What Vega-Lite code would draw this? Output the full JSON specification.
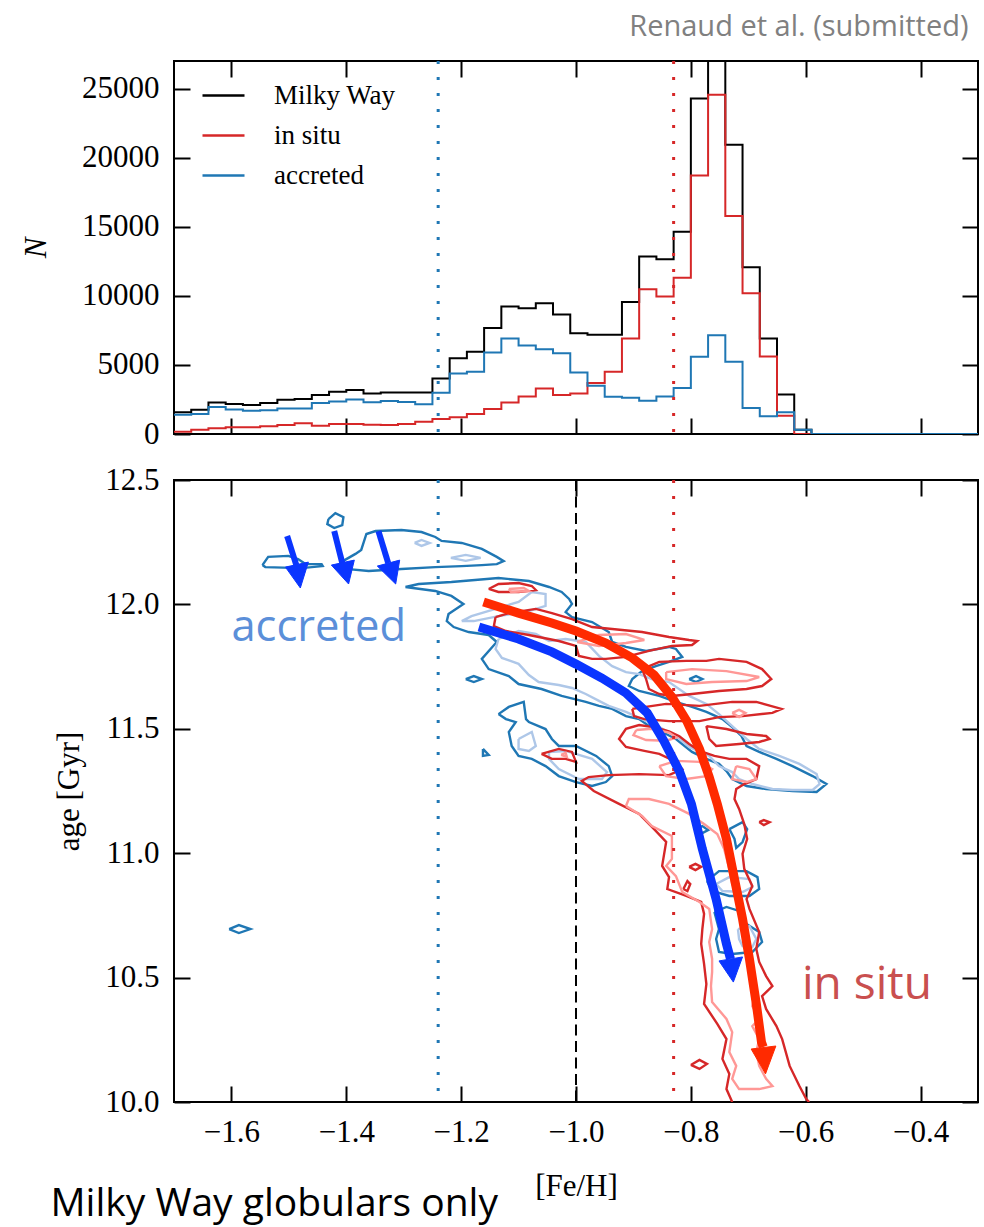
{
"$schema":"https://vega.github.io/schema/vega-lite/v6.json",
"background":"white",
"padding":{"left":19,"top":11,"right":6,"bottom":2},
"spacing":13,
"resolve":{"scale":{"color":"independent"},"legend":{"color":"independent"}},
"config":{
 "view":{"stroke":"black","strokeWidth":2},
 "axis":{"labelFont":"Liberation Serif","labelFontSize":31,"labelColor":"black","titleFont":"Liberation Serif","titleFontSize":31,"titleFontWeight":"normal","titleColor":"black","tickSize":-16,"tickWidth":2,"tickColor":"black","labelPadding":31,"domain":false,"grid":false,"labelFlush":false,"labelOverlap":false,"minExtent":0},
 "legend":{"labelFont":"Liberation Serif","labelFontSize":27,"labelColor":"black"}
},
"datasets":{
"hist":[
{"s":"Milky Way","x":-1.70,"n":1566},{"s":"Milky Way","x":-1.67,"n":1758},{"s":"Milky Way","x":-1.64,"n":2288},{"s":"Milky Way","x":-1.61,"n":2168},{"s":"Milky Way","x":-1.58,"n":2095},{"s":"Milky Way","x":-1.55,"n":2240},{"s":"Milky Way","x":-1.52,"n":2480},{"s":"Milky Way","x":-1.49,"n":2529},{"s":"Milky Way","x":-1.46,"n":2818},{"s":"Milky Way","x":-1.43,"n":3058},{"s":"Milky Way","x":-1.40,"n":3179},{"s":"Milky Way","x":-1.37,"n":2938},{"s":"Milky Way","x":-1.34,"n":3010},{"s":"Milky Way","x":-1.31,"n":3010},{"s":"Milky Way","x":-1.28,"n":3010},{"s":"Milky Way","x":-1.25,"n":4022},{"s":"Milky Way","x":-1.22,"n":5491},{"s":"Milky Way","x":-1.19,"n":5949},{"s":"Milky Way","x":-1.16,"n":7680},{"s":"Milky Way","x":-1.13,"n":9225},{"s":"Milky Way","x":-1.10,"n":9105},{"s":"Milky Way","x":-1.07,"n":9466},{"s":"Milky Way","x":-1.04,"n":8647},{"s":"Milky Way","x":-1.01,"n":7298},{"s":"Milky Way","x":-0.98,"n":7177},{"s":"Milky Way","x":-0.95,"n":7177},{"s":"Milky Way","x":-0.92,"n":9563},{"s":"Milky Way","x":-0.89,"n":12840},{"s":"Milky Way","x":-0.86,"n":12647},{"s":"Milky Way","x":-0.83,"n":14646},{"s":"Milky Way","x":-0.80,"n":24280},{"s":"Milky Way","x":-0.77,"n":31700},{"s":"Milky Way","x":-0.74,"n":20932},{"s":"Milky Way","x":-0.71,"n":12069},{"s":"Milky Way","x":-0.68,"n":6912},{"s":"Milky Way","x":-0.65,"n":2866},{"s":"Milky Way","x":-0.62,"n":313},{"s":"Milky Way","x":-0.59,"n":0},{"s":"Milky Way","x":-0.30,"n":0},
{"s":"in situ","x":-1.70,"n":169},{"s":"in situ","x":-1.67,"n":313},{"s":"in situ","x":-1.64,"n":409},{"s":"in situ","x":-1.61,"n":482},{"s":"in situ","x":-1.58,"n":482},{"s":"in situ","x":-1.55,"n":554},{"s":"in situ","x":-1.52,"n":650},{"s":"in situ","x":-1.49,"n":771},{"s":"in situ","x":-1.46,"n":602},{"s":"in situ","x":-1.43,"n":722},{"s":"in situ","x":-1.40,"n":722},{"s":"in situ","x":-1.37,"n":674},{"s":"in situ","x":-1.34,"n":650},{"s":"in situ","x":-1.31,"n":722},{"s":"in situ","x":-1.28,"n":891},{"s":"in situ","x":-1.25,"n":1084},{"s":"in situ","x":-1.22,"n":1204},{"s":"in situ","x":-1.19,"n":1445},{"s":"in situ","x":-1.16,"n":1806},{"s":"in situ","x":-1.13,"n":2288},{"s":"in situ","x":-1.10,"n":2721},{"s":"in situ","x":-1.07,"n":3299},{"s":"in situ","x":-1.04,"n":2818},{"s":"in situ","x":-1.01,"n":2938},{"s":"in situ","x":-0.98,"n":3685},{"s":"in situ","x":-0.95,"n":4503},{"s":"in situ","x":-0.92,"n":6912},{"s":"in situ","x":-0.89,"n":10476},{"s":"in situ","x":-0.86,"n":9948},{"s":"in situ","x":-0.83,"n":11318},{"s":"in situ","x":-0.80,"n":18713},{"s":"in situ","x":-0.77,"n":24564},{"s":"in situ","x":-0.74,"n":15775},{"s":"in situ","x":-0.71,"n":10187},{"s":"in situ","x":-0.68,"n":5612},{"s":"in situ","x":-0.65,"n":1325},{"s":"in situ","x":-0.62,"n":0},{"s":"in situ","x":-0.59,"n":0},{"s":"in situ","x":-0.30,"n":0},
{"s":"accreted","x":-1.70,"n":1397},{"s":"accreted","x":-1.67,"n":1445},{"s":"accreted","x":-1.64,"n":1960},{"s":"accreted","x":-1.61,"n":1770},{"s":"accreted","x":-1.58,"n":1680},{"s":"accreted","x":-1.55,"n":1720},{"s":"accreted","x":-1.52,"n":1840},{"s":"accreted","x":-1.49,"n":1840},{"s":"accreted","x":-1.46,"n":2250},{"s":"accreted","x":-1.43,"n":2350},{"s":"accreted","x":-1.40,"n":2490},{"s":"accreted","x":-1.37,"n":2300},{"s":"accreted","x":-1.34,"n":2380},{"s":"accreted","x":-1.31,"n":2320},{"s":"accreted","x":-1.28,"n":2150},{"s":"accreted","x":-1.25,"n":2980},{"s":"accreted","x":-1.22,"n":4380},{"s":"accreted","x":-1.19,"n":4510},{"s":"accreted","x":-1.16,"n":5900},{"s":"accreted","x":-1.13,"n":6912},{"s":"accreted","x":-1.10,"n":6406},{"s":"accreted","x":-1.07,"n":6141},{"s":"accreted","x":-1.04,"n":5852},{"s":"accreted","x":-1.01,"n":4455},{"s":"accreted","x":-0.98,"n":3492},{"s":"accreted","x":-0.95,"n":2697},{"s":"accreted","x":-0.92,"n":2625},{"s":"accreted","x":-0.89,"n":2408},{"s":"accreted","x":-0.86,"n":2721},{"s":"accreted","x":-0.83,"n":3324},{"s":"accreted","x":-0.80,"n":5587},{"s":"accreted","x":-0.77,"n":7153},{"s":"accreted","x":-0.74,"n":5226},{"s":"accreted","x":-0.71,"n":1879},{"s":"accreted","x":-0.68,"n":1276},{"s":"accreted","x":-0.65,"n":1566},{"s":"accreted","x":-0.62,"n":313},{"s":"accreted","x":-0.59,"n":0},{"s":"accreted","x":-0.30,"n":0}
],
"contours":[
{"c":"B1","k":"bo","i":0,"x":-1.431,"y":12.343},{"c":"B1","k":"bo","i":1,"x":-1.419,"y":12.367},{"c":"B1","k":"bo","i":2,"x":-1.405,"y":12.351},{"c":"B1","k":"bo","i":3,"x":-1.407,"y":12.319},{"c":"B1","k":"bo","i":4,"x":-1.421,"y":12.307},{"c":"B1","k":"bo","i":5,"x":-1.433,"y":12.323},{"c":"B1","k":"bo","i":6,"x":-1.431,"y":12.343},
{"c":"B2","k":"bo","i":0,"x":-1.546,"y":12.158},{"c":"B2","k":"bo","i":1,"x":-1.536,"y":12.191},{"c":"B2","k":"bo","i":2,"x":-1.501,"y":12.195},{"c":"B2","k":"bo","i":3,"x":-1.484,"y":12.182},{"c":"B2","k":"bo","i":4,"x":-1.471,"y":12.162},{"c":"B2","k":"bo","i":5,"x":-1.443,"y":12.162},{"c":"B2","k":"bo","i":6,"x":-1.441,"y":12.154},{"c":"B2","k":"bo","i":7,"x":-1.478,"y":12.146},{"c":"B2","k":"bo","i":8,"x":-1.541,"y":12.150},{"c":"B2","k":"bo","i":9,"x":-1.546,"y":12.158},
{"c":"B3","k":"bo","i":0,"x":-1.409,"y":12.170},{"c":"B3","k":"bo","i":1,"x":-1.384,"y":12.203},{"c":"B3","k":"bo","i":2,"x":-1.374,"y":12.219},{"c":"B3","k":"bo","i":3,"x":-1.365,"y":12.283},{"c":"B3","k":"bo","i":4,"x":-1.349,"y":12.295},{"c":"B3","k":"bo","i":5,"x":-1.304,"y":12.299},{"c":"B3","k":"bo","i":6,"x":-1.269,"y":12.291},{"c":"B3","k":"bo","i":7,"x":-1.245,"y":12.271},{"c":"B3","k":"bo","i":8,"x":-1.234,"y":12.255},{"c":"B3","k":"bo","i":9,"x":-1.199,"y":12.247},{"c":"B3","k":"bo","i":10,"x":-1.164,"y":12.223},{"c":"B3","k":"bo","i":11,"x":-1.138,"y":12.191},{"c":"B3","k":"bo","i":12,"x":-1.126,"y":12.174},{"c":"B3","k":"bo","i":13,"x":-1.138,"y":12.162},{"c":"B3","k":"bo","i":14,"x":-1.164,"y":12.158},{"c":"B3","k":"bo","i":15,"x":-1.199,"y":12.154},{"c":"B3","k":"bo","i":16,"x":-1.245,"y":12.150},{"c":"B3","k":"bo","i":17,"x":-1.304,"y":12.142},{"c":"B3","k":"bo","i":18,"x":-1.361,"y":12.134},{"c":"B3","k":"bo","i":19,"x":-1.396,"y":12.142},{"c":"B3","k":"bo","i":20,"x":-1.409,"y":12.158},{"c":"B3","k":"bo","i":21,"x":-1.409,"y":12.170},
{"c":"B4","k":"bo","i":0,"x":-1.297,"y":12.070},{"c":"B4","k":"bo","i":1,"x":-1.274,"y":12.082},{"c":"B4","k":"bo","i":2,"x":-1.217,"y":12.090},{"c":"B4","k":"bo","i":3,"x":-1.135,"y":12.106},{"c":"B4","k":"bo","i":4,"x":-1.082,"y":12.094},{"c":"B4","k":"bo","i":5,"x":-1.047,"y":12.070},{"c":"B4","k":"bo","i":6,"x":-1.025,"y":12.050},{"c":"B4","k":"bo","i":7,"x":-1.012,"y":12.022},{"c":"B4","k":"bo","i":8,"x":-1.007,"y":12.002},{"c":"B4","k":"bo","i":9,"x":-1.018,"y":11.969},{"c":"B4","k":"bo","i":10,"x":-1.007,"y":11.949},{"c":"B4","k":"bo","i":11,"x":-0.972,"y":11.929},{"c":"B4","k":"bo","i":12,"x":-0.943,"y":11.889},{"c":"B4","k":"bo","i":13,"x":-0.937,"y":11.849},{"c":"B4","k":"bo","i":14,"x":-0.913,"y":11.829},{"c":"B4","k":"bo","i":15,"x":-0.878,"y":11.813},{"c":"B4","k":"bo","i":16,"x":-0.838,"y":11.829},{"c":"B4","k":"bo","i":17,"x":-0.826,"y":11.821},{"c":"B4","k":"bo","i":18,"x":-0.815,"y":11.789},{"c":"B4","k":"bo","i":19,"x":-0.838,"y":11.769},{"c":"B4","k":"bo","i":20,"x":-0.861,"y":11.752},{"c":"B4","k":"bo","i":21,"x":-0.885,"y":11.732},{"c":"B4","k":"bo","i":22,"x":-0.902,"y":11.700},{"c":"B4","k":"bo","i":23,"x":-0.908,"y":11.672},{"c":"B4","k":"bo","i":24,"x":-0.890,"y":11.652},{"c":"B4","k":"bo","i":25,"x":-0.855,"y":11.632},{"c":"B4","k":"bo","i":26,"x":-0.826,"y":11.608},{"c":"B4","k":"bo","i":27,"x":-0.798,"y":11.588},{"c":"B4","k":"bo","i":28,"x":-0.773,"y":11.568},{"c":"B4","k":"bo","i":29,"x":-0.745,"y":11.539},{"c":"B4","k":"bo","i":30,"x":-0.728,"y":11.507},{"c":"B4","k":"bo","i":31,"x":-0.712,"y":11.471},{"c":"B4","k":"bo","i":32,"x":-0.703,"y":11.431},{"c":"B4","k":"bo","i":33,"x":-0.681,"y":11.407},{"c":"B4","k":"bo","i":34,"x":-0.651,"y":11.379},{"c":"B4","k":"bo","i":35,"x":-0.623,"y":11.350},{"c":"B4","k":"bo","i":36,"x":-0.588,"y":11.310},{"c":"B4","k":"bo","i":37,"x":-0.564,"y":11.278},{"c":"B4","k":"bo","i":38,"x":-0.581,"y":11.246},{"c":"B4","k":"bo","i":39,"x":-0.623,"y":11.250},{"c":"B4","k":"bo","i":40,"x":-0.669,"y":11.258},{"c":"B4","k":"bo","i":41,"x":-0.703,"y":11.270},{"c":"B4","k":"bo","i":42,"x":-0.728,"y":11.298},{"c":"B4","k":"bo","i":43,"x":-0.738,"y":11.330},{"c":"B4","k":"bo","i":44,"x":-0.751,"y":11.359},{"c":"B4","k":"bo","i":45,"x":-0.773,"y":11.379},{"c":"B4","k":"bo","i":46,"x":-0.798,"y":11.407},{"c":"B4","k":"bo","i":47,"x":-0.826,"y":11.459},{"c":"B4","k":"bo","i":48,"x":-0.850,"y":11.487},{"c":"B4","k":"bo","i":49,"x":-0.873,"y":11.511},{"c":"B4","k":"bo","i":50,"x":-0.890,"y":11.539},{"c":"B4","k":"bo","i":51,"x":-0.913,"y":11.551},{"c":"B4","k":"bo","i":52,"x":-0.937,"y":11.580},{"c":"B4","k":"bo","i":53,"x":-0.960,"y":11.592},{"c":"B4","k":"bo","i":54,"x":-0.983,"y":11.608},{"c":"B4","k":"bo","i":55,"x":-1.025,"y":11.632},{"c":"B4","k":"bo","i":56,"x":-1.060,"y":11.660},{"c":"B4","k":"bo","i":57,"x":-1.100,"y":11.680},{"c":"B4","k":"bo","i":58,"x":-1.117,"y":11.712},{"c":"B4","k":"bo","i":59,"x":-1.152,"y":11.740},{"c":"B4","k":"bo","i":60,"x":-1.164,"y":11.781},{"c":"B4","k":"bo","i":61,"x":-1.138,"y":11.849},{"c":"B4","k":"bo","i":62,"x":-1.152,"y":11.877},{"c":"B4","k":"bo","i":63,"x":-1.187,"y":11.889},{"c":"B4","k":"bo","i":64,"x":-1.213,"y":11.909},{"c":"B4","k":"bo","i":65,"x":-1.225,"y":11.933},{"c":"B4","k":"bo","i":66,"x":-1.222,"y":11.961},{"c":"B4","k":"bo","i":67,"x":-1.196,"y":12.002},{"c":"B4","k":"bo","i":68,"x":-1.217,"y":12.034},{"c":"B4","k":"bo","i":69,"x":-1.245,"y":12.054},{"c":"B4","k":"bo","i":70,"x":-1.297,"y":12.070},
{"c":"B5","k":"bo","i":0,"x":-1.192,"y":11.700},{"c":"B5","k":"bo","i":1,"x":-1.178,"y":11.712},{"c":"B5","k":"bo","i":2,"x":-1.164,"y":11.700},{"c":"B5","k":"bo","i":3,"x":-1.178,"y":11.688},{"c":"B5","k":"bo","i":4,"x":-1.192,"y":11.700},
{"c":"B6","k":"bo","i":0,"x":-1.162,"y":11.419},{"c":"B6","k":"bo","i":1,"x":-1.152,"y":11.395},{"c":"B6","k":"bo","i":2,"x":-1.162,"y":11.391},{"c":"B6","k":"bo","i":3,"x":-1.162,"y":11.419},
{"c":"B7","k":"bo","i":0,"x":-1.135,"y":11.559},{"c":"B7","k":"bo","i":1,"x":-1.117,"y":11.588},{"c":"B7","k":"bo","i":2,"x":-1.091,"y":11.608},{"c":"B7","k":"bo","i":3,"x":-1.087,"y":11.539},{"c":"B7","k":"bo","i":4,"x":-1.082,"y":11.527},{"c":"B7","k":"bo","i":5,"x":-1.053,"y":11.499},{"c":"B7","k":"bo","i":6,"x":-1.042,"y":11.459},{"c":"B7","k":"bo","i":7,"x":-1.030,"y":11.431},{"c":"B7","k":"bo","i":8,"x":-1.000,"y":11.431},{"c":"B7","k":"bo","i":9,"x":-0.965,"y":11.391},{"c":"B7","k":"bo","i":10,"x":-0.943,"y":11.350},{"c":"B7","k":"bo","i":11,"x":-0.937,"y":11.310},{"c":"B7","k":"bo","i":12,"x":-0.948,"y":11.286},{"c":"B7","k":"bo","i":13,"x":-0.972,"y":11.270},{"c":"B7","k":"bo","i":14,"x":-1.000,"y":11.286},{"c":"B7","k":"bo","i":15,"x":-1.030,"y":11.310},{"c":"B7","k":"bo","i":16,"x":-1.053,"y":11.350},{"c":"B7","k":"bo","i":17,"x":-1.077,"y":11.379},{"c":"B7","k":"bo","i":18,"x":-1.100,"y":11.391},{"c":"B7","k":"bo","i":19,"x":-1.112,"y":11.431},{"c":"B7","k":"bo","i":20,"x":-1.117,"y":11.487},{"c":"B7","k":"bo","i":21,"x":-1.105,"y":11.527},{"c":"B7","k":"bo","i":22,"x":-1.122,"y":11.539},{"c":"B7","k":"bo","i":23,"x":-1.135,"y":11.559},
{"c":"B8","k":"bo","i":0,"x":-1.604,"y":10.695},{"c":"B8","k":"bo","i":1,"x":-1.587,"y":10.711},{"c":"B8","k":"bo","i":2,"x":-1.567,"y":10.695},{"c":"B8","k":"bo","i":3,"x":-1.587,"y":10.679},{"c":"B8","k":"bo","i":4,"x":-1.604,"y":10.695},
{"c":"B9A","k":"bo","i":0,"x":-0.733,"y":11.097},{"c":"B9A","k":"bo","i":1,"x":-0.710,"y":11.125},{"c":"B9A","k":"bo","i":2,"x":-0.702,"y":11.097},{"c":"B9A","k":"bo","i":3,"x":-0.710,"y":11.045},{"c":"B9A","k":"bo","i":4,"x":-0.721,"y":11.021},{"c":"B9A","k":"bo","i":5,"x":-0.724,"y":11.057},{"c":"B9A","k":"bo","i":6,"x":-0.733,"y":11.097},
{"c":"B9D","k":"bo","i":0,"x":-0.791,"y":11.097},{"c":"B9D","k":"bo","i":1,"x":-0.780,"y":11.109},{"c":"B9D","k":"bo","i":2,"x":-0.770,"y":11.093},{"c":"B9D","k":"bo","i":3,"x":-0.780,"y":11.081},{"c":"B9D","k":"bo","i":4,"x":-0.791,"y":11.097},
{"c":"B9B","k":"bo","i":0,"x":-0.772,"y":10.888},{"c":"B9B","k":"bo","i":1,"x":-0.751,"y":10.928},{"c":"B9B","k":"bo","i":2,"x":-0.703,"y":10.928},{"c":"B9B","k":"bo","i":3,"x":-0.684,"y":10.904},{"c":"B9B","k":"bo","i":4,"x":-0.681,"y":10.856},{"c":"B9B","k":"bo","i":5,"x":-0.698,"y":10.828},{"c":"B9B","k":"bo","i":6,"x":-0.733,"y":10.828},{"c":"B9B","k":"bo","i":7,"x":-0.763,"y":10.848},{"c":"B9B","k":"bo","i":8,"x":-0.772,"y":10.888},
{"c":"B9C","k":"bo","i":0,"x":-0.759,"y":10.764},{"c":"B9C","k":"bo","i":1,"x":-0.738,"y":10.784},{"c":"B9C","k":"bo","i":2,"x":-0.716,"y":10.768},{"c":"B9C","k":"bo","i":3,"x":-0.703,"y":10.715},{"c":"B9C","k":"bo","i":4,"x":-0.681,"y":10.683},{"c":"B9C","k":"bo","i":5,"x":-0.676,"y":10.643},{"c":"B9C","k":"bo","i":6,"x":-0.693,"y":10.603},{"c":"B9C","k":"bo","i":7,"x":-0.728,"y":10.595},{"c":"B9C","k":"bo","i":8,"x":-0.751,"y":10.603},{"c":"B9C","k":"bo","i":9,"x":-0.756,"y":10.655},{"c":"B9C","k":"bo","i":10,"x":-0.751,"y":10.695},{"c":"B9C","k":"bo","i":11,"x":-0.759,"y":10.764},
{"c":"B10","k":"bo","i":0,"x":-0.803,"y":11.700},{"c":"B10","k":"bo","i":1,"x":-0.791,"y":11.712},{"c":"B10","k":"bo","i":2,"x":-0.780,"y":11.700},{"c":"B10","k":"bo","i":3,"x":-0.791,"y":11.688},{"c":"B10","k":"bo","i":4,"x":-0.803,"y":11.700},
{"c":"LB1a","k":"bi","i":0,"x":-1.281,"y":12.247},{"c":"LB1a","k":"bi","i":1,"x":-1.269,"y":12.259},{"c":"LB1a","k":"bi","i":2,"x":-1.255,"y":12.247},{"c":"LB1a","k":"bi","i":3,"x":-1.269,"y":12.235},{"c":"LB1a","k":"bi","i":4,"x":-1.281,"y":12.247},
{"c":"LB1b","k":"bi","i":0,"x":-1.218,"y":12.187},{"c":"LB1b","k":"bi","i":1,"x":-1.192,"y":12.199},{"c":"LB1b","k":"bi","i":2,"x":-1.166,"y":12.187},{"c":"LB1b","k":"bi","i":3,"x":-1.192,"y":12.175},{"c":"LB1b","k":"bi","i":4,"x":-1.218,"y":12.187},
{"c":"LBs","k":"bi","i":0,"x":-1.199,"y":11.933},{"c":"LBs","k":"bi","i":1,"x":-1.182,"y":11.953},{"c":"LBs","k":"bi","i":2,"x":-1.140,"y":11.982},{"c":"LBs","k":"bi","i":3,"x":-1.100,"y":12.010},{"c":"LBs","k":"bi","i":4,"x":-1.077,"y":12.050},{"c":"LBs","k":"bi","i":5,"x":-1.053,"y":12.042},{"c":"LBs","k":"bi","i":6,"x":-1.053,"y":11.994},{"c":"LBs","k":"bi","i":7,"x":-1.082,"y":11.973},{"c":"LBs","k":"bi","i":8,"x":-1.135,"y":11.953},{"c":"LBs","k":"bi","i":9,"x":-1.178,"y":11.933},{"c":"LBs","k":"bi","i":10,"x":-1.199,"y":11.933},
{"c":"LB2","k":"bi","i":0,"x":-1.135,"y":11.861},{"c":"LB2","k":"bi","i":1,"x":-1.100,"y":11.893},{"c":"LB2","k":"bi","i":2,"x":-1.070,"y":11.881},{"c":"LB2","k":"bi","i":3,"x":-1.047,"y":11.853},{"c":"LB2","k":"bi","i":4,"x":-1.018,"y":11.861},{"c":"LB2","k":"bi","i":5,"x":-0.983,"y":11.849},{"c":"LB2","k":"bi","i":6,"x":-0.960,"y":11.793},{"c":"LB2","k":"bi","i":7,"x":-0.937,"y":11.752},{"c":"LB2","k":"bi","i":8,"x":-0.913,"y":11.728},{"c":"LB2","k":"bi","i":9,"x":-0.890,"y":11.720},{"c":"LB2","k":"bi","i":10,"x":-0.868,"y":11.700},{"c":"LB2","k":"bi","i":11,"x":-0.838,"y":11.688},{"c":"LB2","k":"bi","i":12,"x":-0.803,"y":11.632},{"c":"LB2","k":"bi","i":13,"x":-0.773,"y":11.600},{"c":"LB2","k":"bi","i":14,"x":-0.751,"y":11.559},{"c":"LB2","k":"bi","i":15,"x":-0.728,"y":11.511},{"c":"LB2","k":"bi","i":16,"x":-0.703,"y":11.459},{"c":"LB2","k":"bi","i":17,"x":-0.681,"y":11.419},{"c":"LB2","k":"bi","i":18,"x":-0.646,"y":11.391},{"c":"LB2","k":"bi","i":19,"x":-0.611,"y":11.359},{"c":"LB2","k":"bi","i":20,"x":-0.581,"y":11.318},{"c":"LB2","k":"bi","i":21,"x":-0.576,"y":11.278},{"c":"LB2","k":"bi","i":22,"x":-0.588,"y":11.254},{"c":"LB2","k":"bi","i":23,"x":-0.623,"y":11.254},{"c":"LB2","k":"bi","i":24,"x":-0.658,"y":11.258},{"c":"LB2","k":"bi","i":25,"x":-0.693,"y":11.278},{"c":"LB2","k":"bi","i":26,"x":-0.716,"y":11.298},{"c":"LB2","k":"bi","i":27,"x":-0.728,"y":11.326},{"c":"LB2","k":"bi","i":28,"x":-0.751,"y":11.350},{"c":"LB2","k":"bi","i":29,"x":-0.768,"y":11.391},{"c":"LB2","k":"bi","i":30,"x":-0.803,"y":11.427},{"c":"LB2","k":"bi","i":31,"x":-0.826,"y":11.471},{"c":"LB2","k":"bi","i":32,"x":-0.855,"y":11.507},{"c":"LB2","k":"bi","i":33,"x":-0.885,"y":11.539},{"c":"LB2","k":"bi","i":34,"x":-0.913,"y":11.568},{"c":"LB2","k":"bi","i":35,"x":-0.943,"y":11.592},{"c":"LB2","k":"bi","i":36,"x":-0.960,"y":11.612},{"c":"LB2","k":"bi","i":37,"x":-0.983,"y":11.640},{"c":"LB2","k":"bi","i":38,"x":-1.007,"y":11.664},{"c":"LB2","k":"bi","i":39,"x":-1.030,"y":11.676},{"c":"LB2","k":"bi","i":40,"x":-1.065,"y":11.688},{"c":"LB2","k":"bi","i":41,"x":-1.082,"y":11.716},{"c":"LB2","k":"bi","i":42,"x":-1.100,"y":11.761},{"c":"LB2","k":"bi","i":43,"x":-1.129,"y":11.785},{"c":"LB2","k":"bi","i":44,"x":-1.140,"y":11.821},{"c":"LB2","k":"bi","i":45,"x":-1.135,"y":11.861},
{"c":"LB3a","k":"bi","i":0,"x":-1.100,"y":11.459},{"c":"LB3a","k":"bi","i":1,"x":-1.077,"y":11.487},{"c":"LB3a","k":"bi","i":2,"x":-1.070,"y":11.431},{"c":"LB3a","k":"bi","i":3,"x":-1.082,"y":11.411},{"c":"LB3a","k":"bi","i":4,"x":-1.100,"y":11.419},{"c":"LB3a","k":"bi","i":5,"x":-1.100,"y":11.459},
{"c":"LB3b","k":"bi","i":0,"x":-1.047,"y":11.407},{"c":"LB3b","k":"bi","i":1,"x":-1.018,"y":11.411},{"c":"LB3b","k":"bi","i":2,"x":-0.972,"y":11.379},{"c":"LB3b","k":"bi","i":3,"x":-0.946,"y":11.326},{"c":"LB3b","k":"bi","i":4,"x":-0.955,"y":11.298},{"c":"LB3b","k":"bi","i":5,"x":-0.995,"y":11.298},{"c":"LB3b","k":"bi","i":6,"x":-1.030,"y":11.338},{"c":"LB3b","k":"bi","i":7,"x":-1.047,"y":11.379},{"c":"LB3b","k":"bi","i":8,"x":-1.047,"y":11.407},
{"c":"LB9B","k":"bi","i":0,"x":-0.756,"y":10.876},{"c":"LB9B","k":"bi","i":1,"x":-0.733,"y":10.904},{"c":"LB9B","k":"bi","i":2,"x":-0.698,"y":10.896},{"c":"LB9B","k":"bi","i":3,"x":-0.693,"y":10.864},{"c":"LB9B","k":"bi","i":4,"x":-0.710,"y":10.844},{"c":"LB9B","k":"bi","i":5,"x":-0.745,"y":10.848},{"c":"LB9B","k":"bi","i":6,"x":-0.756,"y":10.876},
{"c":"LB9C","k":"bi","i":0,"x":-0.718,"y":10.695},{"c":"LB9C","k":"bi","i":1,"x":-0.698,"y":10.707},{"c":"LB9C","k":"bi","i":2,"x":-0.686,"y":10.655},{"c":"LB9C","k":"bi","i":3,"x":-0.693,"y":10.623},{"c":"LB9C","k":"bi","i":4,"x":-0.710,"y":10.627},{"c":"LB9C","k":"bi","i":5,"x":-0.716,"y":10.655},{"c":"LB9C","k":"bi","i":6,"x":-0.718,"y":10.695},
{"c":"R0","k":"ro","i":0,"x":-1.152,"y":12.062},{"c":"R0","k":"ro","i":1,"x":-1.135,"y":12.082},{"c":"R0","k":"ro","i":2,"x":-1.100,"y":12.086},{"c":"R0","k":"ro","i":3,"x":-1.077,"y":12.074},{"c":"R0","k":"ro","i":4,"x":-1.070,"y":12.058},{"c":"R0","k":"ro","i":5,"x":-1.100,"y":12.050},{"c":"R0","k":"ro","i":6,"x":-1.135,"y":12.050},{"c":"R0","k":"ro","i":7,"x":-1.152,"y":12.062},
{"c":"R1","k":"ro","i":0,"x":-1.140,"y":11.949},{"c":"R1","k":"ro","i":1,"x":-1.117,"y":11.965},{"c":"R1","k":"ro","i":2,"x":-1.070,"y":11.982},{"c":"R1","k":"ro","i":3,"x":-1.042,"y":11.965},{"c":"R1","k":"ro","i":4,"x":-1.007,"y":11.941},{"c":"R1","k":"ro","i":5,"x":-0.972,"y":11.909},{"c":"R1","k":"ro","i":6,"x":-0.937,"y":11.901},{"c":"R1","k":"ro","i":7,"x":-0.885,"y":11.889},{"c":"R1","k":"ro","i":8,"x":-0.838,"y":11.869},{"c":"R1","k":"ro","i":9,"x":-0.803,"y":11.857},{"c":"R1","k":"ro","i":10,"x":-0.789,"y":11.853},{"c":"R1","k":"ro","i":11,"x":-0.798,"y":11.837},{"c":"R1","k":"ro","i":12,"x":-0.833,"y":11.833},{"c":"R1","k":"ro","i":13,"x":-0.873,"y":11.813},{"c":"R1","k":"ro","i":14,"x":-0.913,"y":11.789},{"c":"R1","k":"ro","i":15,"x":-0.948,"y":11.781},{"c":"R1","k":"ro","i":16,"x":-0.972,"y":11.781},{"c":"R1","k":"ro","i":17,"x":-0.995,"y":11.793},{"c":"R1","k":"ro","i":18,"x":-1.000,"y":11.833},{"c":"R1","k":"ro","i":19,"x":-1.030,"y":11.853},{"c":"R1","k":"ro","i":20,"x":-1.082,"y":11.877},{"c":"R1","k":"ro","i":21,"x":-1.122,"y":11.893},{"c":"R1","k":"ro","i":22,"x":-1.143,"y":11.913},{"c":"R1","k":"ro","i":23,"x":-1.140,"y":11.949},
{"c":"R2","k":"ro","i":0,"x":-0.885,"y":11.740},{"c":"R2","k":"ro","i":1,"x":-0.855,"y":11.769},{"c":"R2","k":"ro","i":2,"x":-0.808,"y":11.773},{"c":"R2","k":"ro","i":3,"x":-0.773,"y":11.773},{"c":"R2","k":"ro","i":4,"x":-0.751,"y":11.781},{"c":"R2","k":"ro","i":5,"x":-0.703,"y":11.769},{"c":"R2","k":"ro","i":6,"x":-0.676,"y":11.740},{"c":"R2","k":"ro","i":7,"x":-0.660,"y":11.700},{"c":"R2","k":"ro","i":8,"x":-0.676,"y":11.672},{"c":"R2","k":"ro","i":9,"x":-0.703,"y":11.660},{"c":"R2","k":"ro","i":10,"x":-0.751,"y":11.652},{"c":"R2","k":"ro","i":11,"x":-0.798,"y":11.640},{"c":"R2","k":"ro","i":12,"x":-0.833,"y":11.632},{"c":"R2","k":"ro","i":13,"x":-0.855,"y":11.640},{"c":"R2","k":"ro","i":14,"x":-0.873,"y":11.660},{"c":"R2","k":"ro","i":15,"x":-0.878,"y":11.700},{"c":"R2","k":"ro","i":16,"x":-0.885,"y":11.740},
{"c":"R3","k":"ro","i":0,"x":-0.902,"y":11.580},{"c":"R3","k":"ro","i":1,"x":-0.843,"y":11.600},{"c":"R3","k":"ro","i":2,"x":-0.785,"y":11.592},{"c":"R3","k":"ro","i":3,"x":-0.728,"y":11.608},{"c":"R3","k":"ro","i":4,"x":-0.686,"y":11.608},{"c":"R3","k":"ro","i":5,"x":-0.642,"y":11.580},{"c":"R3","k":"ro","i":6,"x":-0.658,"y":11.564},{"c":"R3","k":"ro","i":7,"x":-0.710,"y":11.551},{"c":"R3","k":"ro","i":8,"x":-0.751,"y":11.547},{"c":"R3","k":"ro","i":9,"x":-0.785,"y":11.531},{"c":"R3","k":"ro","i":10,"x":-0.838,"y":11.531},{"c":"R3","k":"ro","i":11,"x":-0.881,"y":11.539},{"c":"R3","k":"ro","i":12,"x":-0.899,"y":11.551},{"c":"R3","k":"ro","i":13,"x":-0.902,"y":11.580},
{"c":"R4","k":"ro","i":0,"x":-0.773,"y":11.511},{"c":"R4","k":"ro","i":1,"x":-0.738,"y":11.499},{"c":"R4","k":"ro","i":2,"x":-0.703,"y":11.479},{"c":"R4","k":"ro","i":3,"x":-0.669,"y":11.471},{"c":"R4","k":"ro","i":4,"x":-0.663,"y":11.459},{"c":"R4","k":"ro","i":5,"x":-0.681,"y":11.447},{"c":"R4","k":"ro","i":6,"x":-0.716,"y":11.439},{"c":"R4","k":"ro","i":7,"x":-0.756,"y":11.431},{"c":"R4","k":"ro","i":8,"x":-0.768,"y":11.459},{"c":"R4","k":"ro","i":9,"x":-0.773,"y":11.511},
{"c":"R5","k":"ro","i":0,"x":-0.728,"y":10.000},{"c":"R5","k":"ro","i":1,"x":-0.738,"y":10.052},{"c":"R5","k":"ro","i":2,"x":-0.733,"y":10.113},{"c":"R5","k":"ro","i":3,"x":-0.745,"y":10.173},{"c":"R5","k":"ro","i":4,"x":-0.738,"y":10.253},{"c":"R5","k":"ro","i":5,"x":-0.754,"y":10.314},{"c":"R5","k":"ro","i":6,"x":-0.777,"y":10.394},{"c":"R5","k":"ro","i":7,"x":-0.773,"y":10.474},{"c":"R5","k":"ro","i":8,"x":-0.777,"y":10.555},{"c":"R5","k":"ro","i":9,"x":-0.782,"y":10.635},{"c":"R5","k":"ro","i":10,"x":-0.780,"y":10.695},{"c":"R5","k":"ro","i":11,"x":-0.777,"y":10.756},{"c":"R5","k":"ro","i":12,"x":-0.782,"y":10.804},{"c":"R5","k":"ro","i":13,"x":-0.808,"y":10.828},{"c":"R5","k":"ro","i":14,"x":-0.841,"y":10.856},{"c":"R5","k":"ro","i":15,"x":-0.838,"y":10.904},{"c":"R5","k":"ro","i":16,"x":-0.850,"y":10.949},{"c":"R5","k":"ro","i":17,"x":-0.843,"y":11.045},{"c":"R5","k":"ro","i":18,"x":-0.864,"y":11.097},{"c":"R5","k":"ro","i":19,"x":-0.890,"y":11.158},{"c":"R5","k":"ro","i":20,"x":-0.925,"y":11.198},{"c":"R5","k":"ro","i":21,"x":-0.969,"y":11.250},{"c":"R5","k":"ro","i":22,"x":-0.990,"y":11.290},{"c":"R5","k":"ro","i":23,"x":-0.978,"y":11.306},{"c":"R5","k":"ro","i":24,"x":-0.943,"y":11.314},{"c":"R5","k":"ro","i":25,"x":-0.890,"y":11.318},{"c":"R5","k":"ro","i":26,"x":-0.838,"y":11.314},{"c":"R5","k":"ro","i":27,"x":-0.815,"y":11.338},{"c":"R5","k":"ro","i":28,"x":-0.829,"y":11.371},{"c":"R5","k":"ro","i":29,"x":-0.855,"y":11.399},{"c":"R5","k":"ro","i":30,"x":-0.881,"y":11.411},{"c":"R5","k":"ro","i":31,"x":-0.913,"y":11.427},{"c":"R5","k":"ro","i":32,"x":-0.925,"y":11.459},{"c":"R5","k":"ro","i":33,"x":-0.913,"y":11.500},{"c":"R5","k":"ro","i":34,"x":-0.890,"y":11.515},{"c":"R5","k":"ro","i":35,"x":-0.860,"y":11.505},{"c":"R5","k":"ro","i":36,"x":-0.838,"y":11.490},{"c":"R5","k":"ro","i":37,"x":-0.820,"y":11.470},{"c":"R5","k":"ro","i":38,"x":-0.803,"y":11.439},{"c":"R5","k":"ro","i":39,"x":-0.785,"y":11.411},{"c":"R5","k":"ro","i":40,"x":-0.759,"y":11.391},{"c":"R5","k":"ro","i":41,"x":-0.733,"y":11.379},{"c":"R5","k":"ro","i":42,"x":-0.703,"y":11.379},{"c":"R5","k":"ro","i":43,"x":-0.681,"y":11.350},{"c":"R5","k":"ro","i":44,"x":-0.686,"y":11.298},{"c":"R5","k":"ro","i":45,"x":-0.707,"y":11.278},{"c":"R5","k":"ro","i":46,"x":-0.721,"y":11.258},{"c":"R5","k":"ro","i":47,"x":-0.724,"y":11.218},{"c":"R5","k":"ro","i":48,"x":-0.716,"y":11.178},{"c":"R5","k":"ro","i":49,"x":-0.707,"y":11.117},{"c":"R5","k":"ro","i":50,"x":-0.702,"y":11.057},{"c":"R5","k":"ro","i":51,"x":-0.710,"y":10.997},{"c":"R5","k":"ro","i":52,"x":-0.707,"y":10.937},{"c":"R5","k":"ro","i":53,"x":-0.693,"y":10.868},{"c":"R5","k":"ro","i":54,"x":-0.703,"y":10.816},{"c":"R5","k":"ro","i":55,"x":-0.698,"y":10.776},{"c":"R5","k":"ro","i":56,"x":-0.681,"y":10.683},{"c":"R5","k":"ro","i":57,"x":-0.686,"y":10.615},{"c":"R5","k":"ro","i":58,"x":-0.681,"y":10.563},{"c":"R5","k":"ro","i":59,"x":-0.669,"y":10.506},{"c":"R5","k":"ro","i":60,"x":-0.658,"y":10.466},{"c":"R5","k":"ro","i":61,"x":-0.676,"y":10.426},{"c":"R5","k":"ro","i":62,"x":-0.669,"y":10.374},{"c":"R5","k":"ro","i":63,"x":-0.651,"y":10.305},{"c":"R5","k":"ro","i":64,"x":-0.641,"y":10.253},{"c":"R5","k":"ro","i":65,"x":-0.628,"y":10.145},{"c":"R5","k":"ro","i":66,"x":-0.611,"y":10.064},{"c":"R5","k":"ro","i":67,"x":-0.599,"y":10.012},{"c":"R5","k":"ro","i":68,"x":-0.594,"y":10.000},
{"c":"Rb7","k":"ro","i":0,"x":-1.060,"y":11.399},{"c":"Rb7","k":"ro","i":1,"x":-1.030,"y":11.419},{"c":"Rb7","k":"ro","i":2,"x":-1.007,"y":11.407},{"c":"Rb7","k":"ro","i":3,"x":-1.000,"y":11.367},{"c":"Rb7","k":"ro","i":4,"x":-1.018,"y":11.379},{"c":"Rb7","k":"ro","i":5,"x":-1.042,"y":11.379},{"c":"Rb7","k":"ro","i":6,"x":-1.060,"y":11.399},
{"c":"Rs1","k":"ro","i":0,"x":-0.803,"y":10.945},{"c":"Rs1","k":"ro","i":1,"x":-0.792,"y":10.957},{"c":"Rs1","k":"ro","i":2,"x":-0.782,"y":10.945},{"c":"Rs1","k":"ro","i":3,"x":-0.792,"y":10.932},{"c":"Rs1","k":"ro","i":4,"x":-0.803,"y":10.945},
{"c":"Rs2","k":"ro","i":0,"x":-0.813,"y":10.856},{"c":"Rs2","k":"ro","i":1,"x":-0.806,"y":10.888},{"c":"Rs2","k":"ro","i":2,"x":-0.801,"y":10.876},{"c":"Rs2","k":"ro","i":3,"x":-0.806,"y":10.848},{"c":"Rs2","k":"ro","i":4,"x":-0.813,"y":10.856},
{"c":"Rs3","k":"ro","i":0,"x":-0.681,"y":11.125},{"c":"Rs3","k":"ro","i":1,"x":-0.673,"y":11.133},{"c":"Rs3","k":"ro","i":2,"x":-0.663,"y":11.125},{"c":"Rs3","k":"ro","i":3,"x":-0.673,"y":11.113},{"c":"Rs3","k":"ro","i":4,"x":-0.681,"y":11.125},
{"c":"Rs4","k":"ro","i":0,"x":-0.800,"y":10.149},{"c":"Rs4","k":"ro","i":1,"x":-0.785,"y":10.169},{"c":"Rs4","k":"ro","i":2,"x":-0.772,"y":10.153},{"c":"Rs4","k":"ro","i":3,"x":-0.785,"y":10.133},{"c":"Rs4","k":"ro","i":4,"x":-0.800,"y":10.149},
{"c":"P0","k":"ri","i":0,"x":-1.117,"y":12.062},{"c":"P0","k":"ri","i":1,"x":-1.091,"y":12.066},{"c":"P0","k":"ri","i":2,"x":-1.082,"y":12.054},{"c":"P0","k":"ri","i":3,"x":-1.113,"y":12.050},{"c":"P0","k":"ri","i":4,"x":-1.117,"y":12.062},
{"c":"P1","k":"ri","i":0,"x":-0.998,"y":11.849},{"c":"P1","k":"ri","i":1,"x":-0.960,"y":11.877},{"c":"P1","k":"ri","i":2,"x":-0.913,"y":11.881},{"c":"P1","k":"ri","i":3,"x":-0.881,"y":11.857},{"c":"P1","k":"ri","i":4,"x":-0.913,"y":11.845},{"c":"P1","k":"ri","i":5,"x":-0.960,"y":11.833},{"c":"P1","k":"ri","i":6,"x":-0.998,"y":11.849},
{"c":"P2","k":"ri","i":0,"x":-0.843,"y":11.728},{"c":"P2","k":"ri","i":1,"x":-0.798,"y":11.740},{"c":"P2","k":"ri","i":2,"x":-0.738,"y":11.732},{"c":"P2","k":"ri","i":3,"x":-0.681,"y":11.708},{"c":"P2","k":"ri","i":4,"x":-0.703,"y":11.692},{"c":"P2","k":"ri","i":5,"x":-0.763,"y":11.688},{"c":"P2","k":"ri","i":6,"x":-0.808,"y":11.680},{"c":"P2","k":"ri","i":7,"x":-0.843,"y":11.700},{"c":"P2","k":"ri","i":8,"x":-0.843,"y":11.728},
{"c":"P3","k":"ri","i":0,"x":-0.728,"y":11.564},{"c":"P3","k":"ri","i":1,"x":-0.716,"y":11.576},{"c":"P3","k":"ri","i":2,"x":-0.705,"y":11.564},{"c":"P3","k":"ri","i":3,"x":-0.716,"y":11.547},{"c":"P3","k":"ri","i":4,"x":-0.728,"y":11.564},
{"c":"P5","k":"ri","i":0,"x":-0.913,"y":11.190},{"c":"P5","k":"ri","i":1,"x":-0.885,"y":11.150},{"c":"P5","k":"ri","i":2,"x":-0.868,"y":11.109},{"c":"P5","k":"ri","i":3,"x":-0.833,"y":11.069},{"c":"P5","k":"ri","i":4,"x":-0.833,"y":10.977},{"c":"P5","k":"ri","i":5,"x":-0.843,"y":10.949},{"c":"P5","k":"ri","i":6,"x":-0.826,"y":10.908},{"c":"P5","k":"ri","i":7,"x":-0.815,"y":10.844},{"c":"P5","k":"ri","i":8,"x":-0.785,"y":10.804},{"c":"P5","k":"ri","i":9,"x":-0.768,"y":10.776},{"c":"P5","k":"ri","i":10,"x":-0.763,"y":10.695},{"c":"P5","k":"ri","i":11,"x":-0.768,"y":10.643},{"c":"P5","k":"ri","i":12,"x":-0.763,"y":10.575},{"c":"P5","k":"ri","i":13,"x":-0.763,"y":10.523},{"c":"P5","k":"ri","i":14,"x":-0.765,"y":10.466},{"c":"P5","k":"ri","i":15,"x":-0.763,"y":10.402},{"c":"P5","k":"ri","i":16,"x":-0.738,"y":10.334},{"c":"P5","k":"ri","i":17,"x":-0.728,"y":10.281},{"c":"P5","k":"ri","i":18,"x":-0.733,"y":10.201},{"c":"P5","k":"ri","i":19,"x":-0.721,"y":10.145},{"c":"P5","k":"ri","i":20,"x":-0.728,"y":10.093},{"c":"P5","k":"ri","i":21,"x":-0.716,"y":10.052},{"c":"P5","k":"ri","i":22,"x":-0.681,"y":10.052},{"c":"P5","k":"ri","i":23,"x":-0.658,"y":10.064},{"c":"P5","k":"ri","i":24,"x":-0.669,"y":10.093},{"c":"P5","k":"ri","i":25,"x":-0.681,"y":10.145},{"c":"P5","k":"ri","i":26,"x":-0.686,"y":10.201},{"c":"P5","k":"ri","i":27,"x":-0.681,"y":10.253},{"c":"P5","k":"ri","i":28,"x":-0.693,"y":10.305},{"c":"P5","k":"ri","i":29,"x":-0.681,"y":10.334},{"c":"P5","k":"ri","i":30,"x":-0.693,"y":10.386},{"c":"P5","k":"ri","i":31,"x":-0.686,"y":10.466},{"c":"P5","k":"ri","i":32,"x":-0.698,"y":10.547},{"c":"P5","k":"ri","i":33,"x":-0.703,"y":10.627},{"c":"P5","k":"ri","i":34,"x":-0.703,"y":10.695},{"c":"P5","k":"ri","i":35,"x":-0.707,"y":10.756},{"c":"P5","k":"ri","i":36,"x":-0.716,"y":10.816},{"c":"P5","k":"ri","i":37,"x":-0.728,"y":10.876},{"c":"P5","k":"ri","i":38,"x":-0.733,"y":10.937},{"c":"P5","k":"ri","i":39,"x":-0.742,"y":11.017},{"c":"P5","k":"ri","i":40,"x":-0.754,"y":11.077},{"c":"P5","k":"ri","i":41,"x":-0.777,"y":11.117},{"c":"P5","k":"ri","i":42,"x":-0.803,"y":11.158},{"c":"P5","k":"ri","i":43,"x":-0.838,"y":11.198},{"c":"P5","k":"ri","i":44,"x":-0.873,"y":11.218},{"c":"P5","k":"ri","i":45,"x":-0.908,"y":11.218},{"c":"P5","k":"ri","i":46,"x":-0.913,"y":11.190},
{"c":"Pm1","k":"ri","i":0,"x":-0.895,"y":11.495},{"c":"Pm1","k":"ri","i":1,"x":-0.868,"y":11.500},{"c":"Pm1","k":"ri","i":2,"x":-0.838,"y":11.485},{"c":"Pm1","k":"ri","i":3,"x":-0.825,"y":11.465},{"c":"Pm1","k":"ri","i":4,"x":-0.843,"y":11.452},{"c":"Pm1","k":"ri","i":5,"x":-0.878,"y":11.455},{"c":"Pm1","k":"ri","i":6,"x":-0.900,"y":11.475},{"c":"Pm1","k":"ri","i":7,"x":-0.895,"y":11.495},
{"c":"Pm2","k":"ri","i":0,"x":-0.855,"y":11.350},{"c":"Pm2","k":"ri","i":1,"x":-0.826,"y":11.371},{"c":"Pm2","k":"ri","i":2,"x":-0.785,"y":11.367},{"c":"Pm2","k":"ri","i":3,"x":-0.763,"y":11.338},{"c":"Pm2","k":"ri","i":4,"x":-0.773,"y":11.310},{"c":"Pm2","k":"ri","i":5,"x":-0.808,"y":11.298},{"c":"Pm2","k":"ri","i":6,"x":-0.843,"y":11.310},{"c":"Pm2","k":"ri","i":7,"x":-0.855,"y":11.350},
{"c":"Pm3","k":"ri","i":0,"x":-0.721,"y":11.350},{"c":"Pm3","k":"ri","i":1,"x":-0.698,"y":11.338},{"c":"Pm3","k":"ri","i":2,"x":-0.686,"y":11.298},{"c":"Pm3","k":"ri","i":3,"x":-0.703,"y":11.286},{"c":"Pm3","k":"ri","i":4,"x":-0.728,"y":11.298},{"c":"Pm3","k":"ri","i":5,"x":-0.721,"y":11.350},
{"c":"Pb7","k":"ri","i":0,"x":-1.026,"y":11.395},{"c":"Pb7","k":"ri","i":1,"x":-1.018,"y":11.403},{"c":"Pb7","k":"ri","i":2,"x":-1.016,"y":11.387},{"c":"Pb7","k":"ri","i":3,"x":-1.026,"y":11.395}
],
"arrows":[
{"a":"red","p":"shaft","i":0,"x":-1.161,"y":12.010},{"a":"red","p":"shaft","i":1,"x":-1.100,"y":11.965},{"a":"red","p":"shaft","i":2,"x":-1.042,"y":11.925},{"a":"red","p":"shaft","i":3,"x":-1.000,"y":11.893},{"a":"red","p":"shaft","i":4,"x":-0.948,"y":11.845},{"a":"red","p":"shaft","i":5,"x":-0.902,"y":11.785},{"a":"red","p":"shaft","i":6,"x":-0.864,"y":11.716},{"a":"red","p":"shaft","i":7,"x":-0.833,"y":11.628},{"a":"red","p":"shaft","i":8,"x":-0.807,"y":11.531},{"a":"red","p":"shaft","i":9,"x":-0.785,"y":11.419},{"a":"red","p":"shaft","i":10,"x":-0.768,"y":11.306},{"a":"red","p":"shaft","i":11,"x":-0.754,"y":11.198},{"a":"red","p":"shaft","i":12,"x":-0.738,"y":11.057},{"a":"red","p":"shaft","i":13,"x":-0.724,"y":10.896},{"a":"red","p":"shaft","i":14,"x":-0.710,"y":10.736},{"a":"red","p":"shaft","i":15,"x":-0.698,"y":10.575},{"a":"red","p":"shaft","i":16,"x":-0.686,"y":10.394},{"a":"red","p":"shaft","i":17,"x":-0.677,"y":10.240},{"a":"red","p":"shaft","i":18,"x":-0.674,"y":10.221},
{"a":"red","p":"head","i":0,"x":-0.695,"y":10.213},{"a":"red","p":"head","i":1,"x":-0.670,"y":10.113},{"a":"red","p":"head","i":2,"x":-0.652,"y":10.225},{"a":"red","p":"head","i":3,"x":-0.695,"y":10.213},
{"a":"blue","p":"shaft","i":0,"x":-1.169,"y":11.909},{"a":"blue","p":"shaft","i":1,"x":-1.100,"y":11.861},{"a":"blue","p":"shaft","i":2,"x":-1.042,"y":11.809},{"a":"blue","p":"shaft","i":3,"x":-1.000,"y":11.760},{"a":"blue","p":"shaft","i":4,"x":-0.955,"y":11.704},{"a":"blue","p":"shaft","i":5,"x":-0.913,"y":11.644},{"a":"blue","p":"shaft","i":6,"x":-0.876,"y":11.564},{"a":"blue","p":"shaft","i":7,"x":-0.847,"y":11.451},{"a":"blue","p":"shaft","i":8,"x":-0.820,"y":11.330},{"a":"blue","p":"shaft","i":9,"x":-0.799,"y":11.198},{"a":"blue","p":"shaft","i":10,"x":-0.780,"y":11.017},{"a":"blue","p":"shaft","i":11,"x":-0.756,"y":10.816},{"a":"blue","p":"shaft","i":12,"x":-0.738,"y":10.635},{"a":"blue","p":"shaft","i":13,"x":-0.731,"y":10.575},
{"a":"blue","p":"head","i":0,"x":-0.751,"y":10.567},{"a":"blue","p":"head","i":1,"x":-0.726,"y":10.482},{"a":"blue","p":"head","i":2,"x":-0.710,"y":10.583},{"a":"blue","p":"head","i":3,"x":-0.751,"y":10.567},
{"a":"a1","p":"small","i":0,"x":-1.503,"y":12.275},{"a":"a1","p":"small","i":1,"x":-1.487,"y":12.158},
{"a":"a2","p":"small","i":0,"x":-1.421,"y":12.295},{"a":"a2","p":"small","i":1,"x":-1.407,"y":12.166},
{"a":"a3","p":"small","i":0,"x":-1.344,"y":12.295},{"a":"a3","p":"small","i":1,"x":-1.327,"y":12.166},
{"a":"a1","p":"head","i":0,"x":-1.506,"y":12.150},{"a":"a1","p":"head","i":1,"x":-1.480,"y":12.066},{"a":"a1","p":"head","i":2,"x":-1.466,"y":12.170},{"a":"a1","p":"head","i":3,"x":-1.506,"y":12.150},
{"a":"a2","p":"head","i":0,"x":-1.426,"y":12.158},{"a":"a2","p":"head","i":1,"x":-1.396,"y":12.082},{"a":"a2","p":"head","i":2,"x":-1.386,"y":12.178},{"a":"a2","p":"head","i":3,"x":-1.426,"y":12.158},
{"a":"a3","p":"head","i":0,"x":-1.346,"y":12.154},{"a":"a3","p":"head","i":1,"x":-1.314,"y":12.082},{"a":"a3","p":"head","i":2,"x":-1.307,"y":12.178},{"a":"a3","p":"head","i":3,"x":-1.346,"y":12.154}
],
"labels":[
{"t":"accreted","x":-1.600,"y":11.853},
{"t":"in situ","x":-0.6065,"y":10.414}
]
},
"vconcat":[
{
 "width":804,"height":373,
 "title":{"text":"Renaud et al. (submitted)","anchor":"end","frame":"group","dx":-9.5,"offset":-5,"baseline":"alphabetic","font":"Open Sans","fontSize":29,"fontWeight":"normal","color":"#808080"},
 "resolve":{"axis":{"x":"independent","y":"independent"}},
 "layer":[
  {"data":{"name":"hist"},
   "mark":{"type":"line","interpolate":"step-after","strokeWidth":2,"clip":true},
   "encoding":{
    "x":{"field":"x","type":"quantitative","scale":{"domain":[-1.7,-0.3],"nice":false,"zero":false},"axis":{"orient":"bottom","values":[-1.6,-1.4,-1.2,-1.0,-0.8,-0.6,-0.4],"labels":false,"title":null}},
    "y":{"field":"n","type":"quantitative","scale":{"domain":[0,27000],"nice":false,"zero":false},"axis":{"orient":"left","values":[0,5000,10000,15000,20000,25000],"format":"d","title":"N","titleFontStyle":"italic","titleX":-128.7,"titleBaseline":"alphabetic"}},
    "color":{"field":"s","type":"nominal","scale":{"domain":["Milky Way","in situ","accreted"],"range":["#000000","#d62728","#1f77b4"]},
      "legend":{"orient":"none","legendX":27,"legendY":12,"title":null,"symbolType":"stroke","symbolSize":1764,"symbolStrokeWidth":2.5,"labelOffset":28,"rowPadding":4,"labelFont":"Liberation Serif","labelFontSize":27}}
   }},
  {"data":{"values":[{"x":-1.24}]},"mark":{"type":"rule","color":"#1f77b4","strokeWidth":3,"strokeDash":[3,13]},
   "encoding":{"x":{"field":"x","type":"quantitative","scale":{"domain":[-1.7,-0.3],"nice":false,"zero":false},"axis":null}}},
  {"data":{"values":[{"x":-0.83}]},"mark":{"type":"rule","color":"#d62728","strokeWidth":3,"strokeDash":[3,13]},
   "encoding":{"x":{"field":"x","type":"quantitative","scale":{"domain":[-1.7,-0.3],"nice":false,"zero":false},"axis":null}}},
  {"data":{"name":"hist"},"mark":{"type":"point","opacity":0,"clip":true,"size":1},
   "encoding":{
    "x":{"field":"x","type":"quantitative","scale":{"domain":[-1.7,-0.3],"nice":false,"zero":false},"axis":{"orient":"top","values":[-1.6,-1.4,-1.2,-1.0,-0.8,-0.6,-0.4],"labels":false,"title":null}},
    "y":{"field":"n","type":"quantitative","scale":{"domain":[0,27000],"nice":false,"zero":false},"axis":{"orient":"right","values":[0,5000,10000,15000,20000,25000],"labels":false,"title":null}}
   }}
 ]
},
{
 "width":804,"height":622,
 "title":{"text":"Milky Way globulars only","orient":"bottom","anchor":"start","frame":"group","dx":-123.5,"offset":15,"baseline":"alphabetic","font":"Open Sans","fontSize":39,"fontWeight":"normal","color":"black"},
 "resolve":{"axis":{"x":"independent","y":"independent"}},
 "layer":[
  {"data":{"name":"contours"},
   "mark":{"type":"line","strokeWidth":2.4,"clip":true},
   "encoding":{
    "x":{"field":"x","type":"quantitative","scale":{"domain":[-1.7,-0.3],"nice":false,"zero":false},"axis":{"orient":"bottom","values":[-1.6,-1.4,-1.2,-1.0,-0.8,-0.6,-0.4],"format":".1f","title":"[Fe/H]","titleY":93,"titleBaseline":"alphabetic"}},
    "y":{"field":"y","type":"quantitative","scale":{"domain":[10,12.5],"nice":false,"zero":false},"axis":{"orient":"left","values":[10,10.5,11,11.5,12,12.5],"format":".1f","title":"age [Gyr]","titleX":-96,"titleBaseline":"alphabetic"}},
    "detail":{"field":"c"},
    "order":{"field":"i","type":"quantitative"},
    "color":{"field":"k","type":"nominal","scale":{"domain":["bo","bi","ro","ri"],"range":["#1f77b4","#aec7e8","#d62728","#ff9896"]},"legend":null}
   }},
  {"data":{"values":[{"x":-1.24}]},"mark":{"type":"rule","color":"#1f77b4","strokeWidth":3,"strokeDash":[3,13]},
   "encoding":{"x":{"field":"x","type":"quantitative","scale":{"domain":[-1.7,-0.3],"nice":false,"zero":false},"axis":null}}},
  {"data":{"values":[{"x":-0.83}]},"mark":{"type":"rule","color":"#d62728","strokeWidth":3,"strokeDash":[3,13]},
   "encoding":{"x":{"field":"x","type":"quantitative","scale":{"domain":[-1.7,-0.3],"nice":false,"zero":false},"axis":null}}},
  {"data":{"values":[{"x":-1.0}]},"mark":{"type":"rule","color":"black","strokeWidth":2,"strokeDash":[11,5.5]},
   "encoding":{"x":{"field":"x","type":"quantitative","scale":{"domain":[-1.7,-0.3],"nice":false,"zero":false},"axis":null}}},
  {"data":{"name":"arrows"},"transform":[{"filter":"datum.a == 'blue' && datum.p == 'shaft'"}],
   "mark":{"type":"line","color":"#0a35ff","strokeWidth":9,"strokeCap":"butt","clip":true},
   "encoding":{"x":{"field":"x","type":"quantitative","scale":{"domain":[-1.7,-0.3],"nice":false,"zero":false},"axis":null},
    "y":{"field":"y","type":"quantitative","scale":{"domain":[10,12.5],"nice":false,"zero":false},"axis":null},
    "order":{"field":"i","type":"quantitative"}}},
  {"data":{"name":"arrows"},"transform":[{"filter":"datum.p == 'small'"}],
   "mark":{"type":"line","color":"#0a35ff","strokeWidth":6,"strokeCap":"butt","clip":true},
   "encoding":{"x":{"field":"x","type":"quantitative","scale":{"domain":[-1.7,-0.3],"nice":false,"zero":false},"axis":null},
    "y":{"field":"y","type":"quantitative","scale":{"domain":[10,12.5],"nice":false,"zero":false},"axis":null},
    "detail":{"field":"a"},
    "order":{"field":"i","type":"quantitative"}}},
  {"data":{"name":"arrows"},"transform":[{"filter":"datum.a == 'red' && datum.p == 'shaft'"}],
   "mark":{"type":"line","color":"#ff2a00","strokeWidth":9,"strokeCap":"butt","clip":true},
   "encoding":{"x":{"field":"x","type":"quantitative","scale":{"domain":[-1.7,-0.3],"nice":false,"zero":false},"axis":null},
    "y":{"field":"y","type":"quantitative","scale":{"domain":[10,12.5],"nice":false,"zero":false},"axis":null},
    "order":{"field":"i","type":"quantitative"}}},
  {"data":{"name":"arrows"},"transform":[{"filter":"datum.p == 'head' && datum.a != 'red'"}],
   "mark":{"type":"line","stroke":"#0a35ff","fill":"#0a35ff","strokeWidth":1,"clip":true},
   "encoding":{"x":{"field":"x","type":"quantitative","scale":{"domain":[-1.7,-0.3],"nice":false,"zero":false},"axis":null},
    "y":{"field":"y","type":"quantitative","scale":{"domain":[10,12.5],"nice":false,"zero":false},"axis":null},
    "detail":{"field":"a"},
    "order":{"field":"i","type":"quantitative"}}},
  {"data":{"name":"arrows"},"transform":[{"filter":"datum.p == 'head' && datum.a == 'red'"}],
   "mark":{"type":"line","stroke":"#ff2a00","fill":"#ff2a00","strokeWidth":1,"clip":true},
   "encoding":{"x":{"field":"x","type":"quantitative","scale":{"domain":[-1.7,-0.3],"nice":false,"zero":false},"axis":null},
    "y":{"field":"y","type":"quantitative","scale":{"domain":[10,12.5],"nice":false,"zero":false},"axis":null},
    "order":{"field":"i","type":"quantitative"}}},
  {"data":{"name":"labels"},"transform":[{"filter":"datum.t == 'accreted'"}],
   "mark":{"type":"text","align":"left","baseline":"alphabetic","font":"Open Sans","fontSize":43.5,"color":"#5b8fd9"},
   "encoding":{"x":{"field":"x","type":"quantitative","scale":{"domain":[-1.7,-0.3],"nice":false,"zero":false},"axis":null},
    "y":{"field":"y","type":"quantitative","scale":{"domain":[10,12.5],"nice":false,"zero":false},"axis":null},
    "text":{"field":"t"}}},
  {"data":{"name":"labels"},"transform":[{"filter":"datum.t == 'in situ'"}],
   "mark":{"type":"text","align":"left","baseline":"alphabetic","font":"Open Sans","fontSize":46,"color":"#c94f4f"},
   "encoding":{"x":{"field":"x","type":"quantitative","scale":{"domain":[-1.7,-0.3],"nice":false,"zero":false},"axis":null},
    "y":{"field":"y","type":"quantitative","scale":{"domain":[10,12.5],"nice":false,"zero":false},"axis":null},
    "text":{"field":"t"}}},
  {"data":{"name":"labels"},"mark":{"type":"point","opacity":0,"clip":true,"size":1},
   "encoding":{
    "x":{"field":"x","type":"quantitative","scale":{"domain":[-1.7,-0.3],"nice":false,"zero":false},"axis":{"orient":"top","values":[-1.6,-1.4,-1.2,-1.0,-0.8,-0.6,-0.4],"labels":false,"title":null}},
    "y":{"field":"y","type":"quantitative","scale":{"domain":[10,12.5],"nice":false,"zero":false},"axis":{"orient":"right","values":[10,10.5,11,11.5,12,12.5],"labels":false,"title":null}}
   }}
 ]
}
]
}
